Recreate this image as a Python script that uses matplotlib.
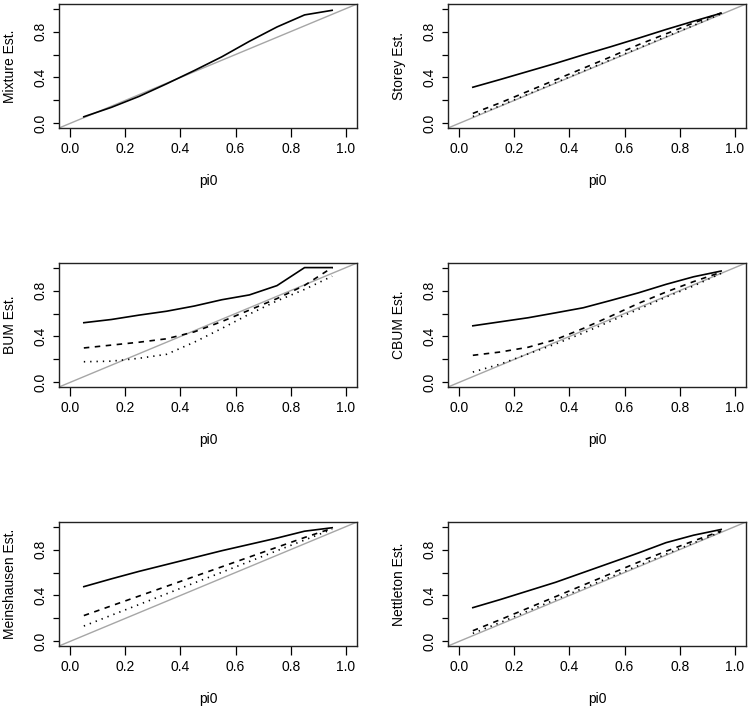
import numpy as np
import matplotlib.pyplot as plt

plt.rcParams['font.family'] = ['Liberation Sans', 'DejaVu Sans']

pi0 = [0.05, 0.15, 0.25, 0.35, 0.45, 0.55, 0.65, 0.75, 0.85, 0.95]

names = ["Mixture", "Storey", "BUM", "CBUM", "Meinshausen", "Nettleton"]

# solid / dashed / dotted series per estimator (None = not drawn separately)
solid = {
    "Mixture":     [0.058, 0.14, 0.235, 0.345, 0.46, 0.58, 0.715, 0.84, 0.945, 0.985],
    "Storey":      [0.315, 0.383, 0.453, 0.523, 0.597, 0.668, 0.742, 0.818, 0.89, 0.96],
    "BUM":         [0.52, 0.548, 0.586, 0.62, 0.665, 0.72, 0.762, 0.843, 1.0, 1.0],
    "CBUM":        [0.493, 0.528, 0.563, 0.606, 0.65, 0.714, 0.78, 0.854, 0.92, 0.97],
    "Meinshausen": [0.477, 0.545, 0.61, 0.67, 0.73, 0.79, 0.845, 0.9, 0.96, 0.99],
    "Nettleton":   [0.294, 0.365, 0.44, 0.515, 0.6, 0.685, 0.77, 0.86, 0.925, 0.975],
}
dashed = {
    "Mixture":     None,
    "Storey":      [0.087, 0.18, 0.28, 0.38, 0.48, 0.58, 0.685, 0.78, 0.875, 0.962],
    "BUM":         [0.30, 0.325, 0.35, 0.38, 0.44, 0.53, 0.63, 0.73, 0.845, 1.0],
    "CBUM":        [0.236, 0.265, 0.306, 0.373, 0.47, 0.577, 0.688, 0.787, 0.878, 0.96],
    "Meinshausen": [0.225, 0.31, 0.395, 0.48, 0.565, 0.65, 0.735, 0.82, 0.905, 0.985],
    "Nettleton":   [0.093, 0.19, 0.29, 0.39, 0.49, 0.59, 0.69, 0.785, 0.875, 0.962],
}
dotted = {
    "Mixture":     None,
    "Storey":      [0.06, 0.155, 0.255, 0.355, 0.455, 0.555, 0.655, 0.755, 0.853, 0.955],
    "BUM":         [0.18, 0.185, 0.21, 0.245, 0.35, 0.47, 0.595, 0.71, 0.81, 0.925],
    "CBUM":        [0.09, 0.16, 0.248, 0.335, 0.43, 0.534, 0.636, 0.743, 0.84, 0.95],
    "Meinshausen": [0.134, 0.228, 0.321, 0.415, 0.509, 0.602, 0.696, 0.79, 0.883, 0.977],
    "Nettleton":   [0.07, 0.165, 0.265, 0.365, 0.463, 0.562, 0.66, 0.76, 0.858, 0.955],
}

W, H = 750, 708
fig = plt.figure(figsize=(W / 100, H / 100), dpi=100)

lefts = [59, 448]
tops = [4, 263, 522]
aw, ah = 298, 124

for k, name in enumerate(names):
    r, c = divmod(k, 2)
    ax = fig.add_axes([lefts[c] / W, 1 - (tops[r] + ah) / H, aw / W, ah / H])
    ax.axline((0, 0), slope=1, color="#a6a6a6", lw=1.0)
    ax.plot(pi0, solid[name], color="black", lw=1.2)
    if dashed[name] is not None:
        ax.plot(pi0, dashed[name], color="black", lw=1.2, dashes=(3.3, 3.3))
    if dotted[name] is not None:
        ax.plot(pi0, dotted[name], color="black", lw=1.2, dashes=(0.8, 3.0))
    ax.set_xlim(-0.04, 1.04)
    ax.set_ylim(-0.04, 1.04)
    ax.set_xticks([0, 0.2, 0.4, 0.6, 0.8, 1.0])
    ax.set_xticklabels(["0.0", "0.2", "0.4", "0.6", "0.8", "1.0"])
    ax.set_yticks([0, 0.2, 0.4, 0.6, 0.8, 1.0])
    ax.set_yticklabels(["0.0", "", "0.4", "", "0.8", ""], rotation=90, va="center")
    ax.tick_params(axis="x", length=6.5, width=0.9, pad=3.6, labelsize=10)
    ax.tick_params(axis="y", length=4.5, width=0.9, pad=4, labelsize=10)
    for s in ax.spines.values():
        s.set_linewidth(1.0)
        s.set_color("#222222")
    ax.set_xlabel("pi0", fontsize=10)
    ax.xaxis.set_label_coords(0.5, -0.37)
    ax.set_ylabel(name + " Est.", fontsize=10)
    ax.yaxis.set_label_coords(-0.141, 0.5)

fig.savefig("out.png", dpi=100)
